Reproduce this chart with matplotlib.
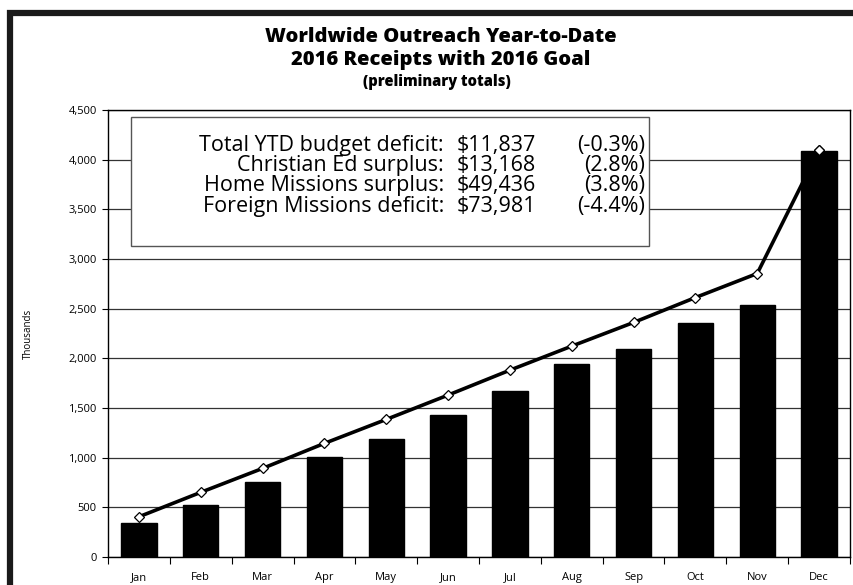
import matplotlib
matplotlib.use("Agg")
import matplotlib.pyplot as plt
from matplotlib.patches import Rectangle
from matplotlib.ticker import FuncFormatter, MultipleLocator

months = ["Jan", "Feb", "Mar", "Apr", "May", "Jun", "Jul", "Aug", "Sep", "Oct", "Nov", "Dec"]
receipts = [345, 525, 755, 1010, 1185, 1425, 1675, 1945, 2095, 2360, 2540, 4090]
goal = [405, 651, 892, 1144, 1385, 1630, 1881, 2123, 2361, 2612, 2854, 4100]

box_labels = ["Total YTD budget deficit:", "Christian Ed surplus:", "Home Missions surplus:", "Foreign Missions deficit:"]
box_amounts = ["$11,837", "$13,168", "$49,436", "$73,981"]
box_pcts = ["(-0.3%)", "(2.8%)", "(3.8%)", "(-4.4%)"]

plt.rcParams['font.family'] = ['Open Sans', 'DejaVu Sans']

fig = plt.figure(figsize=(8.54, 5.85), dpi=100)
W, H = 854, 585

# outer thick frame
fig.patches.append(Rectangle((10.5 / W, -0.05), 1.2, 1 - 12.5 / H + 0.05, transform=fig.transFigure,
                             fill=False, edgecolor="#1a1a1a", linewidth=4.5, zorder=0))

ax = fig.add_axes([108 / W, 1 - 557 / H, (850 - 108) / W, (557 - 110) / H])
x = list(range(len(months)))
ax.plot(x, goal, color="black", linewidth=2.6, marker="D", markersize=5.5,
        markerfacecolor="white", markeredgecolor="black", markeredgewidth=0.9, zorder=2)
ax.bar(x, receipts, width=0.57, color="black", edgecolor="black", zorder=3)
ax.plot([x[-1]], [goal[-1]], linestyle="none", marker="D", markersize=5.5,
        markerfacecolor="white", markeredgecolor="black", markeredgewidth=0.9, zorder=4)

ax.set_xlim(-0.5, 11.5)
ax.set_ylim(0, 4500)
ax.yaxis.set_major_locator(MultipleLocator(500))
ax.yaxis.set_major_formatter(FuncFormatter(lambda v, p: f"{int(v):,}"))
ax.grid(axis="y", color="#333333", linewidth=0.9, zorder=0)
ax.set_axisbelow(True)
ax.set_xticks(x)
ax.set_xticklabels(months)
ax.set_xticks([i + 0.5 for i in range(-1, 12)], minor=True)
ax.tick_params(axis="x", which="major", length=0, labelsize=8, pad=11)
ax.tick_params(axis="x", which="minor", length=5, direction="out", width=0.8)
ax.tick_params(axis="y", length=4, direction="out", labelsize=8, width=0.8, pad=4)
for s in ax.spines.values():
    s.set_linewidth(1.0)
    s.set_color("black")
ax.set_ylabel("Thousands", fontsize=7)
ax.yaxis.set_label_coords(-0.1, 0.5)

# title
fig.text(441 / W, 1 - 37 / H, "Worldwide Outreach Year-to-Date", ha="center", va="center",
         fontsize=14.5, fontweight=800)
fig.text(441 / W, 1 - 60 / H, "2016 Receipts with 2016 Goal", ha="center", va="center",
         fontsize=14.5, fontweight=800)
fig.text(437 / W, 1 - 82 / H, "(preliminary totals)", ha="center", va="center",
         fontsize=10.5, fontweight=800)

# info box
fig.patches.append(Rectangle((131 / W, 1 - 246 / H), (649 - 131) / W, (246 - 117) / H,
                             transform=fig.transFigure, facecolor="white", edgecolor="#555555",
                             linewidth=1.0, zorder=5))
for i, (lab, amt, pct) in enumerate(zip(box_labels, box_amounts, box_pcts)):
    yy = 1 - (146 + i * 20) / H
    fig.text(444 / W, yy, lab, ha="right", va="center", fontsize=15.5, zorder=6)
    fig.text(457 / W, yy, amt, ha="left", va="center", fontsize=15.5, zorder=6)
    fig.text(645 / W, yy, pct, ha="right", va="center", fontsize=15.5, zorder=6)

fig.savefig("out.png", dpi=100)
